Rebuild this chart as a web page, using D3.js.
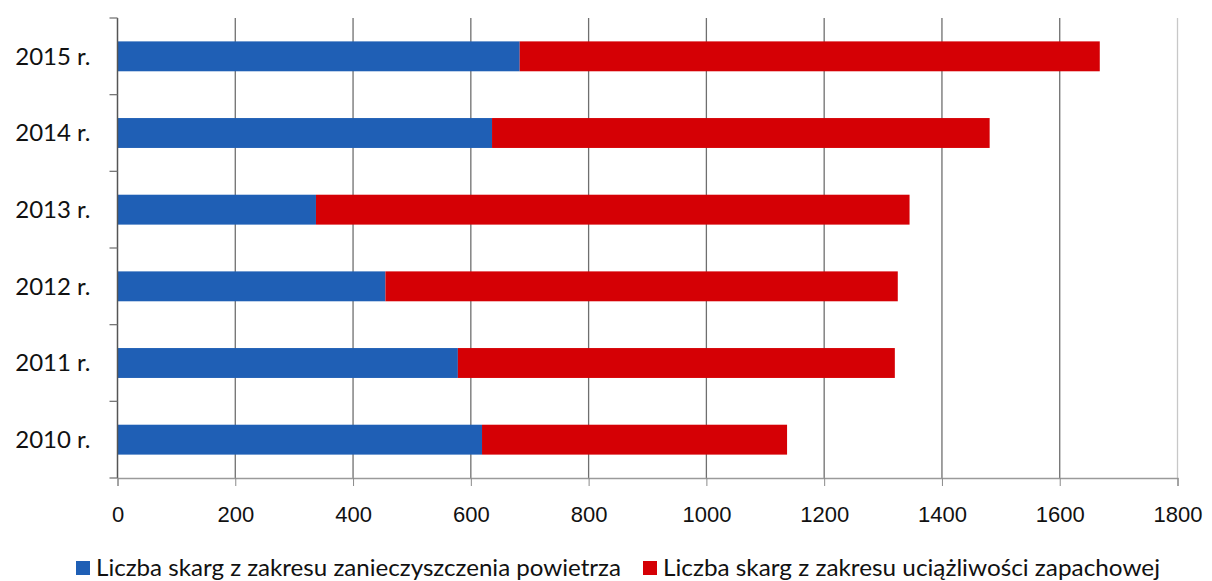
<!DOCTYPE html>
<html>
<head>
<meta charset="utf-8">
<script src="https://cdn.jsdelivr.net/npm/d3@7"></script>
<style>
  body { margin: 0; background: #fff; }
  svg { font-family: Lato, "Open Sans", sans-serif; }
</style>
</head>
<body>
<svg id="drawing_region" width="1212" height="581"></svg>
<script>
// dane
const years = ["2010 r.", "2011 r.", "2012 r.", "2013 r.", "2014 r.", "2015 r."];
const powietrze = [619, 578, 455, 337, 636, 683];
const zapachowe = [518, 742, 870, 1008, 845, 985];
const seriesNames = [
  "Liczba skarg z zakresu zanieczyszczenia powietrza",
  "Liczba skarg z zakresu uciążliwości zapachowej"
];
const colors = ["#1f5fb5", "#d50005"];
const xTicks = [0, 200, 400, 600, 800, 1000, 1200, 1400, 1600, 1800];

const svg = d3.select("#drawing_region");
const margin = {top: 18, right: 32, bottom: 103, left: 117.5};
const width = 1212 - margin.left - margin.right;
const height = 581 - margin.top - margin.bottom;

const g = svg.append("g").attr("transform", `translate(${margin.left},${margin.top})`);

const x = d3.scaleLinear().domain([0, 1800]).range([0, 1060]);
const y = d3.scaleBand().domain(years.slice().reverse()).range([0, height]).paddingInner(0.61).paddingOuter(0.305);

// linie siatki
g.selectAll(".grid")
  .data(xTicks.slice(1))
  .join("line")
  .attr("x1", d => x(d)).attr("x2", d => x(d))
  .attr("y1", 0).attr("y2", height)
  .attr("stroke", d => d === 1800 ? "#c8c8c8" : "#6f6f6f")
  .attr("stroke-width", 1.3);

const rows = years.map((yr, i) => ({yr, a: powietrze[i], b: zapachowe[i]}));

g.selectAll(".blue")
  .data(rows)
  .join("rect")
  .attr("x", x(0))
  .attr("y", d => y(d.yr))
  .attr("width", d => x(d.a) - x(0))
  .attr("height", y.bandwidth())
  .attr("fill", colors[0]);

g.selectAll(".red")
  .data(rows)
  .join("rect")
  .attr("x", d => x(d.a))
  .attr("y", d => y(d.yr))
  .attr("width", d => x(d.a + d.b) - x(d.a))
  .attr("height", y.bandwidth())
  .attr("fill", colors[1]);

// oś X
const xAxis = g.append("g")
  .attr("transform", `translate(0,${height})`)
  .call(d3.axisBottom(x).tickValues(xTicks).tickSize(8).tickPadding(20).tickFormat(d3.format("d")));
xAxis.select(".domain").attr("stroke", "#9a9a9a").attr("stroke-width", 1.3);
xAxis.selectAll(".tick line").attr("stroke", "#8a8a8a");
xAxis.selectAll("text").attr("font-size", 22).attr("fill", "#111");

// oś Y
const yTickPos = d3.range(years.length + 1).map(i => i * height / years.length);
const yAxis = g.append("g");
yAxis.append("line")
  .attr("x1", 0).attr("x2", 0).attr("y1", 0).attr("y2", height)
  .attr("stroke", "#555").attr("stroke-width", 1.5);
yAxis.selectAll(".yt")
  .data(yTickPos)
  .join("line")
  .attr("x1", -8).attr("x2", 0)
  .attr("y1", d => d).attr("y2", d => d)
  .attr("stroke", "#777").attr("stroke-width", 1.3);
yAxis.selectAll(".ylab")
  .data(years)
  .join("text")
  .attr("x", -27)
  .attr("y", d => y(d) + y.bandwidth() / 2)
  .attr("dy", "0.35em")
  .attr("text-anchor", "end")
  .attr("font-size", 24)
  .attr("fill", "#111")
  .text(d => d);

// legenda
const legendX = [76, 643];
const legendW = [525, 497];
const legend = svg.append("g").attr("transform", "translate(0,568)");
seriesNames.forEach((name, i) => {
  legend.append("rect")
    .attr("x", legendX[i]).attr("y", -7)
    .attr("width", 14).attr("height", 14)
    .attr("fill", colors[i]);
  legend.append("text")
    .attr("x", legendX[i] + 20).attr("y", 0)
    .attr("dy", "0.35em")
    .attr("font-size", 24)
    .attr("textLength", legendW[i])
    .attr("lengthAdjust", "spacingAndGlyphs")
    .attr("fill", "#111")
    .text(name);
});
</script>
</body>
</html>
